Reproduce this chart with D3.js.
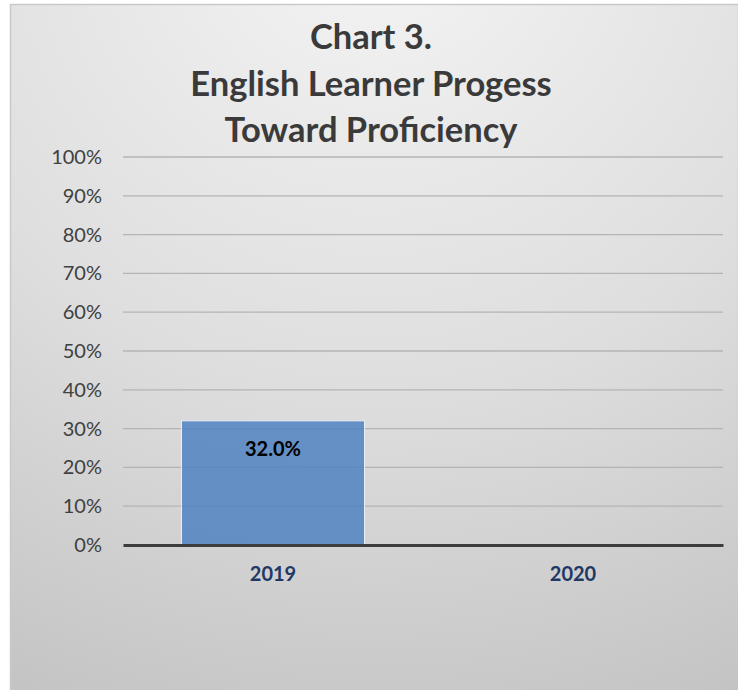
<!DOCTYPE html>
<html>
<head>
<meta charset="utf-8">
<script src="https://cdn.jsdelivr.net/npm/d3@7"></script>
<style>
  body { margin: 0; background: #fff; }
  svg { display: block; }
</style>
</head>
<body>
<div id="chart"></div>
<script>
const titleLines = ['Chart 3.', 'English Learner Progess', 'Toward Proficiency'];
const years = ['2019', '2020'];
const values = [0.32, null];
const yTicks = [0, 0.1, 0.2, 0.3, 0.4, 0.5, 0.6, 0.7, 0.8, 0.9, 1.0];

const W = 738, H = 690;
const MARGIN = { TOP: 157, BOTTOM: 145, LEFT: 123, RIGHT: 15 };
const width = W - MARGIN.LEFT - MARGIN.RIGHT;
const height = H - MARGIN.TOP - MARGIN.BOTTOM;
const FONT = 'Lato, "Open Sans", sans-serif';

const svg = d3.select('#chart').append('svg')
    .attr('width', W)
    .attr('height', H);

// background gradient like the office chart area
const defs = svg.append('defs');
const grad = defs.append('radialGradient')
    .attr('id', 'bg')
    .attr('cx', '50%').attr('cy', '-10%').attr('r', '120%');
grad.append('stop').attr('offset', '0%').attr('stop-color', '#f4f4f4');
grad.append('stop').attr('offset', '55%').attr('stop-color', '#dedede');
grad.append('stop').attr('offset', '100%').attr('stop-color', '#c4c4c4');

svg.append('rect')
    .attr('x', 10.5).attr('y', 4.5)
    .attr('width', W - 10).attr('height', H - 4)
    .attr('fill', 'url(#bg)')
    .attr('stroke', '#c9c9c9')
    .attr('stroke-width', 1.5);

// title
svg.append('g').selectAll('text')
    .data(titleLines)
    .join('text')
    .attr('x', 371)
    .attr('y', (d, i) => 49 + i * 46.5)
    .attr('text-anchor', 'middle')
    .attr('font-family', FONT)
    .attr('font-weight', 'bold')
    .attr('font-size', 34.5)
    .attr('fill', '#3a3a3a')
    .text(d => d);

const g = svg.append('g')
    .attr('transform', `translate(${MARGIN.LEFT}, ${MARGIN.TOP})`);

const x = d3.scaleBand()
    .domain(years)
    .range([0, width])
    .paddingInner(0.39)
    .paddingOuter(0.195);

const y = d3.scaleLinear()
    .domain([0, 1])
    .range([height, 0]);

// gridlines
g.append('g')
    .selectAll('line')
    .data(yTicks.filter(d => d > 0))
    .join('line')
    .attr('x1', 0).attr('x2', width)
    .attr('y1', d => y(d)).attr('y2', d => y(d))
    .attr('stroke', '#b4b4b4')
    .attr('stroke-width', 1.3);

// y axis labels
const yAxis = g.append('g')
    .call(d3.axisLeft(y).tickValues(yTicks).tickFormat(d3.format('.0%')).tickSize(0).tickPadding(21));
yAxis.select('.domain').remove();
yAxis.selectAll('text')
    .attr('font-family', FONT)
    .attr('font-size', 20)
    .attr('fill', '#404040');

// bars
const barData = years.map((d, i) => ({ year: d, value: values[i] })).filter(d => d.value != null);
g.selectAll('rect.bar')
    .data(barData)
    .join('rect')
    .attr('class', 'bar')
    .attr('x', d => x(d.year))
    .attr('y', d => y(d.value))
    .attr('width', x.bandwidth())
    .attr('height', d => height - y(d.value))
    .attr('fill', '#4f82c2')
    .attr('fill-opacity', 0.85)
    .attr('stroke', '#e8eef6')
    .attr('stroke-width', 1);

// data labels
g.selectAll('text.val')
    .data(barData)
    .join('text')
    .attr('class', 'val')
    .attr('x', d => x(d.year) + x.bandwidth() / 2)
    .attr('y', d => y(d.value) + 35)
    .attr('text-anchor', 'middle')
    .attr('font-family', FONT)
    .attr('font-weight', 'bold')
    .attr('font-size', 20)
    .attr('fill', '#000')
    .text(d => d3.format('.1%')(d.value));

// x axis
const xAxis = g.append('g')
    .attr('transform', `translate(0, ${height})`)
    .call(d3.axisBottom(x).tickSize(0).tickPadding(22));
xAxis.select('.domain')
    .attr('stroke', '#3d3d3d')
    .attr('stroke-width', 3);
xAxis.selectAll('text')
    .attr('font-family', FONT)
    .attr('font-weight', 'bold')
    .attr('font-size', 20)
    .attr('fill', '#1f3864');
</script>
</body>
</html>
